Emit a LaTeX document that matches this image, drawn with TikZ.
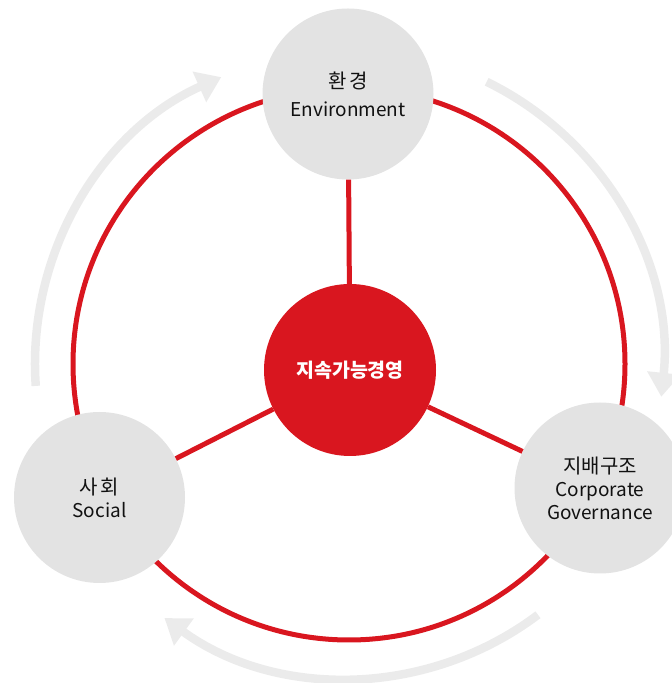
\documentclass[tikz,border=0pt]{standalone}
\usepackage{fontspec}
\setmainfont{Noto Sans CJK KR}
\usetikzlibrary{arrows.meta}
\definecolor{esgred}{HTML}{D9161F}
\definecolor{esggray}{HTML}{E3E3E3}
\definecolor{flowgray}{HTML}{EBEBEB}
\definecolor{textdark}{HTML}{111111}
\newcommand{\kor}[1]{{\fontsize{20}{20}\selectfont #1}}
\tikzstyle{topic} = [circle,fill=esggray,minimum size=171pt,inner sep=0pt,align=center,text=textdark]
\tikzstyle{core} = [circle,fill=esgred,minimum size=172pt,inner sep=0pt,text=white,font=\fontsize{19.5}{24}\selectfont\bfseries]
\tikzstyle{spoke} = [draw=esgred,line width=5pt]
\tikzstyle{flow} = [draw=flowgray,line width=8.5pt,-{Triangle[length=24pt,width=32pt]}]
\begin{document}
\begin{tikzpicture}[x=1pt,y=1pt]
\useasboundingbox (0,0) rectangle (672,683);
\clip (0,0) rectangle (672,683);
\foreach \a/\b in {184/114,64/-6,-53/-126}{
	\draw[flow] (349,319) ++(\a:314pt) arc[start angle=\a,end angle=\b,radius=314pt];
}
\draw[spoke] (349,319) circle[radius=276pt];
\node[core] (core) at (350,313) {지속가능경영};
\node[topic,font=\fontsize{19}{28}\selectfont] (env) at (348,589) {\kor{환\kern3pt 경}\\Environment};
\node[topic,font=\fontsize{19}{23}\selectfont] (soc) at (99.5,185.5) {\kor{사\kern3pt 회}\\Social};
\node[topic,font=\fontsize{19}{23}\selectfont] (gov) at (600,195) {\kor{지배구조}\\Corporate\\Governance};
\draw[spoke] (core) -- (env);
\draw[spoke] (core) -- (soc);
\draw[spoke] (core) -- (gov);
\end{tikzpicture}
\end{document}
